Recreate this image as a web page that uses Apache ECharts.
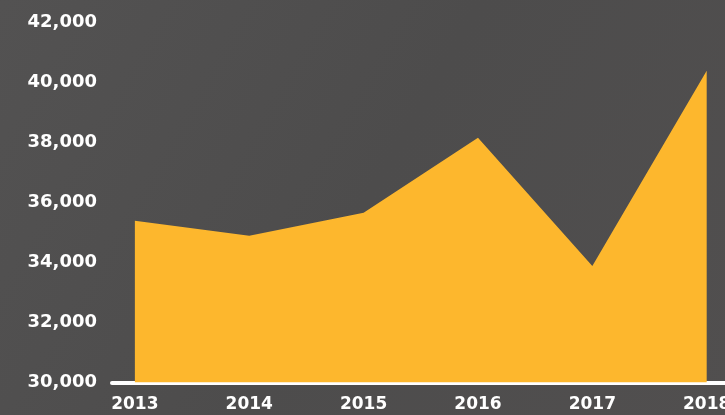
<!DOCTYPE html>
<html>
<head>
<meta charset="utf-8">
<script src="https://cdn.jsdelivr.net/npm/echarts@6/dist/echarts.min.js"></script>
<style>
html,body{margin:0;padding:0;background:#4f4e4e;}
#chart{width:725px;height:415px;}
</style>
</head>
<body>
<div id="chart"></div>
<script>
var years = ['2013', '2014', '2015', '2016', '2017', '2018'];
var values = [35390, 34890, 35660, 38160, 33880, 40390];
var yTicks = [30000, 32000, 34000, 36000, 38000, 40000, 42000];

var seriesData = values.map(function (v, i) { return [i, v]; });
var labelIdx = years.map(function (y, i) { return i; });

var chart = echarts.init(document.getElementById('chart'));
chart.setOption({
  backgroundColor: {
    type: 'linear', x: 0, y: 0, x2: 1, y2: 1,
    colorStops: [{offset: 0, color: '#535252'}, {offset: 0.5, color: '#4d4c4c'}, {offset: 1, color: '#514f4f'}]
  },
  animation: false,
  grid: {left: 112, right: 0, top: 22.5, bottom: 32.5, containLabel: false, outerBoundsMode: 'none'},
  xAxis: {
    type: 'value',
    min: -0.2,
    max: 5.16,
    axisLine: {show: true, lineStyle: {color: '#ffffff', width: 4, cap: 'round'}},
    axisTick: {show: false},
    splitLine: {show: false},
    axisLabel: {
      customValues: labelIdx,
      formatter: function (v) { return years[Math.round(v)]; },
      color: '#ffffff',
      fontFamily: 'DejaVu Sans',
      fontWeight: 'bold',
      fontSize: 17,
      margin: 14,
      hideOverlap: false
    }
  },
  yAxis: {
    type: 'value',
    min: yTicks[0],
    max: yTicks[yTicks.length - 1],
    interval: 2000,
    axisLine: {show: false},
    axisTick: {show: false},
    splitLine: {show: false},
    axisLabel: {
      color: '#ffffff',
      fontFamily: 'DejaVu Sans',
      fontWeight: 'bold',
      fontSize: 18,
      margin: 15,
      formatter: function (v) { return v.toLocaleString('en-US'); }
    }
  },
  series: [{
    type: 'line',
    data: seriesData,
    showSymbol: false,
    symbol: 'none',
    lineStyle: {color: '#fdb72d', width: 0},
    areaStyle: {color: '#fdb72d', opacity: 1},
    z: 1
  }]
});
</script>
</body>
</html>
